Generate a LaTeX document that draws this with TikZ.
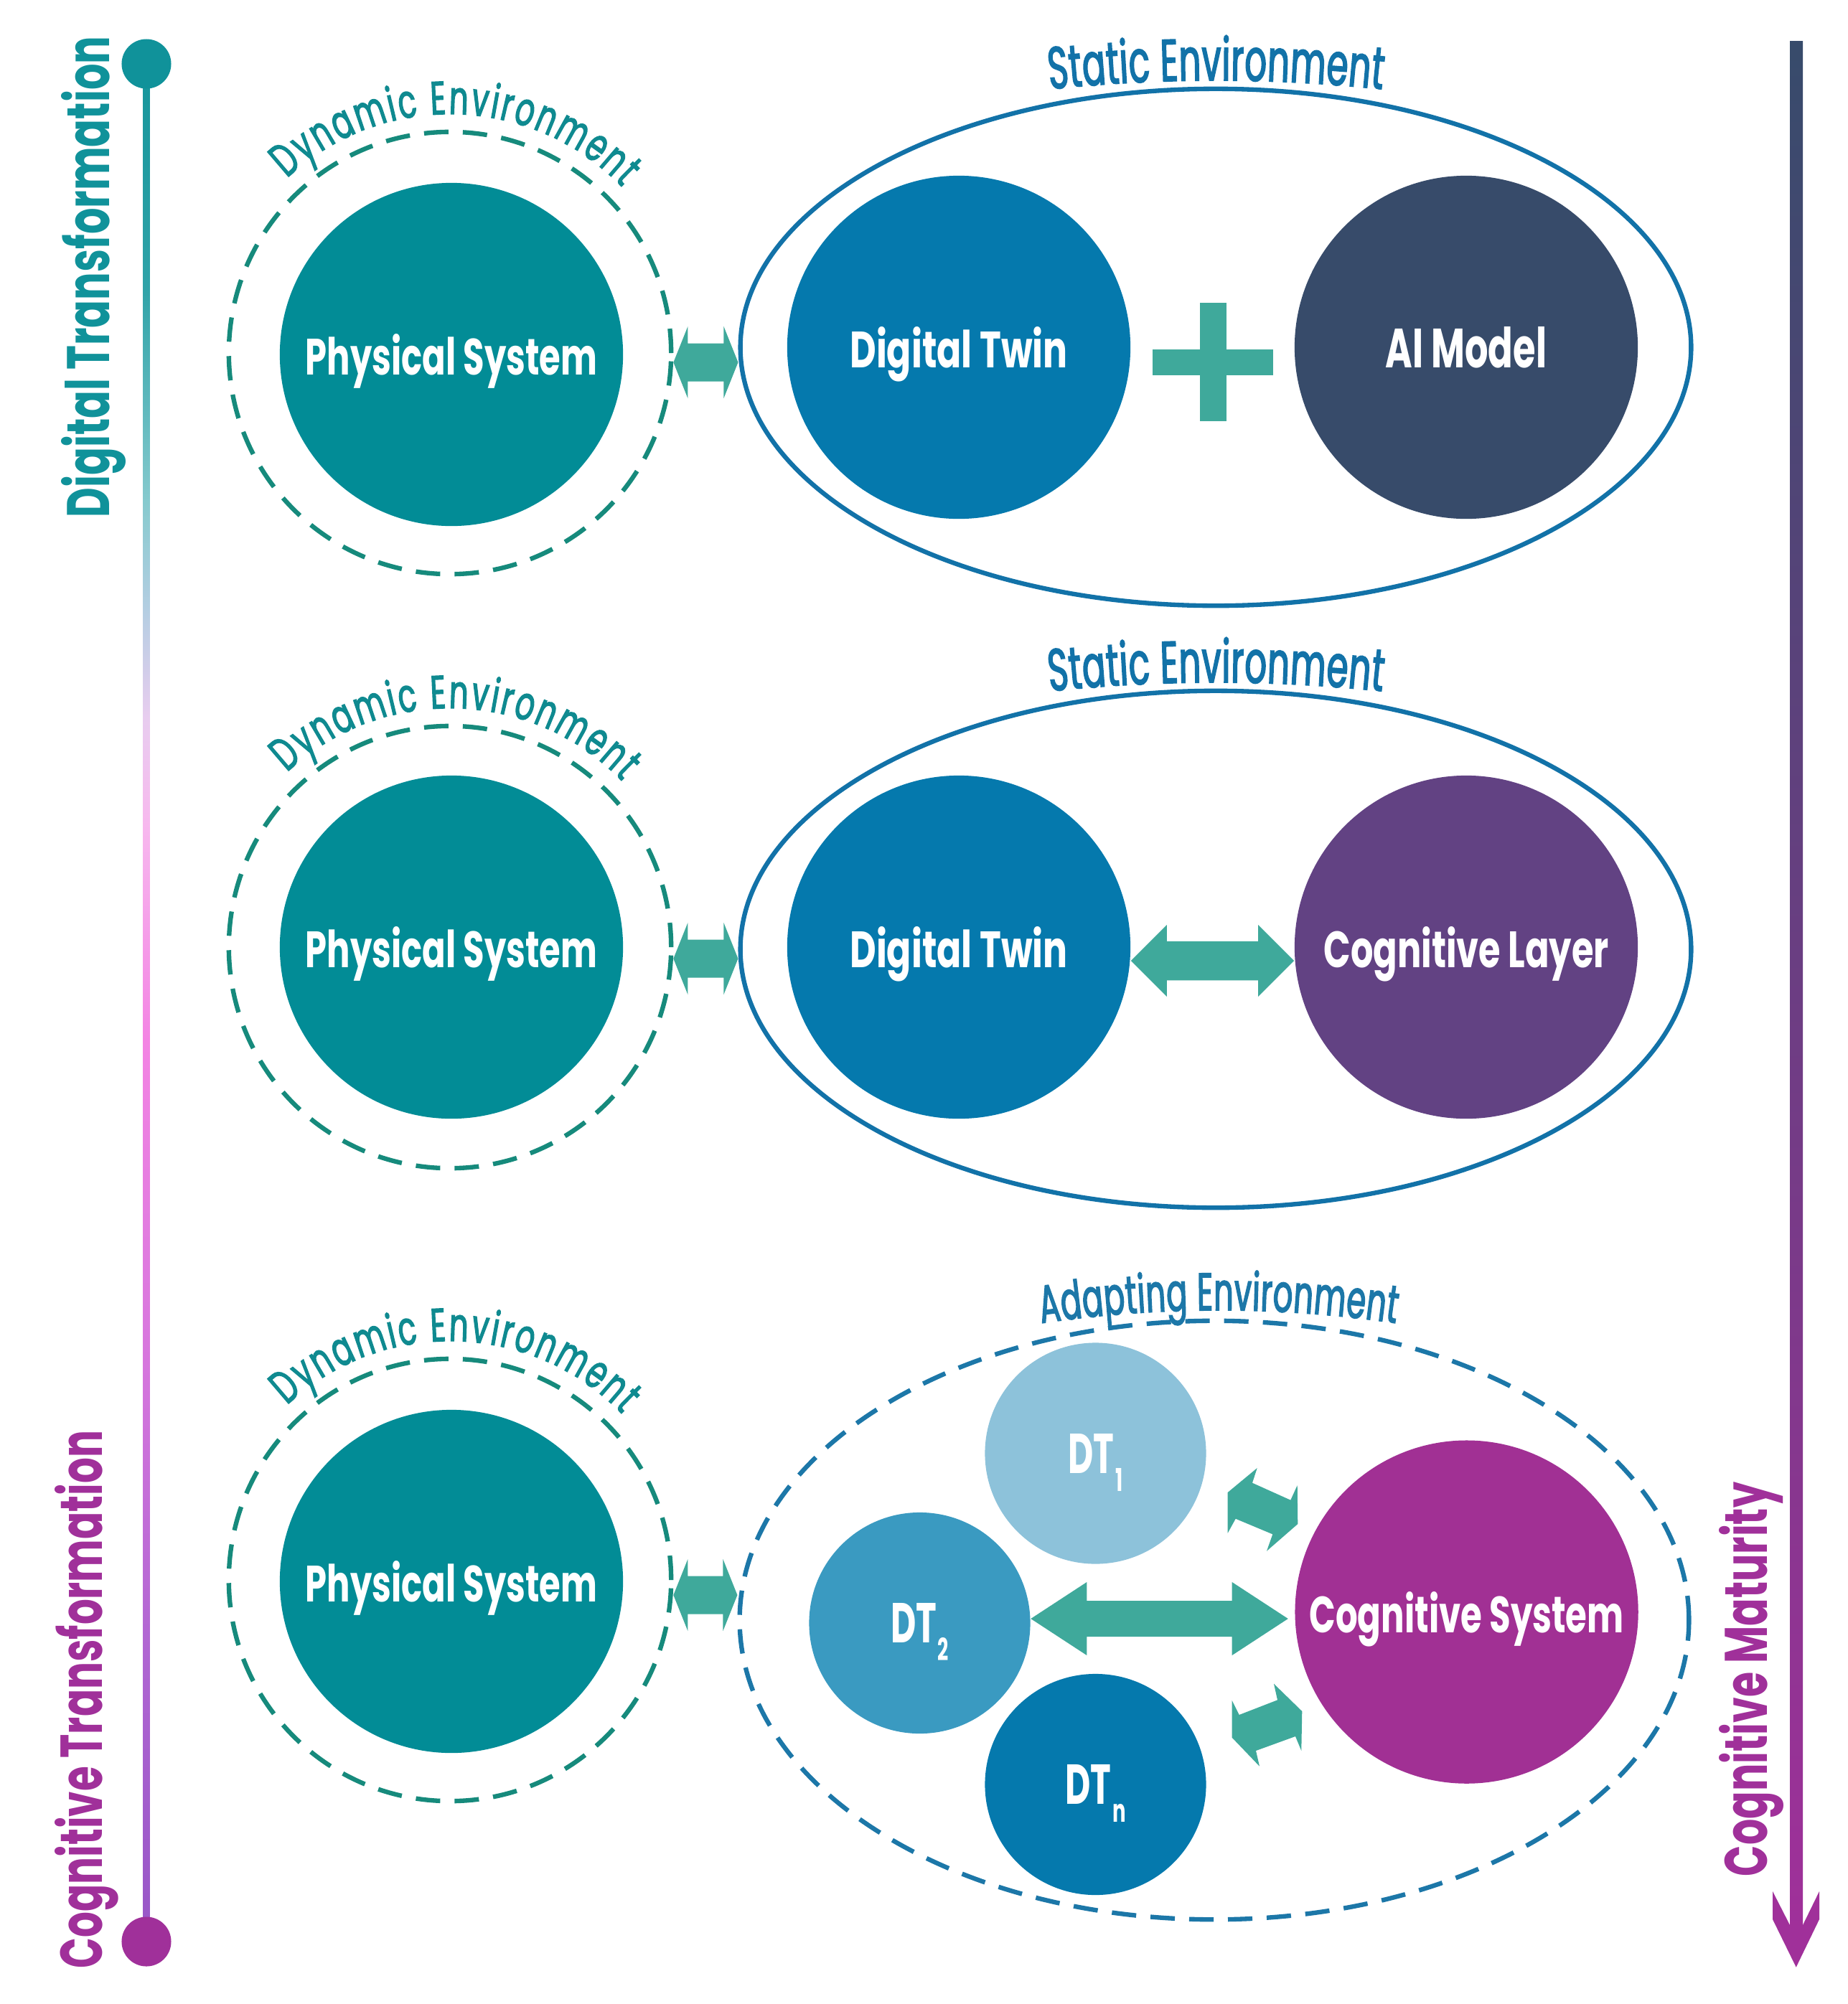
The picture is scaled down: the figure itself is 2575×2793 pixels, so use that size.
\documentclass[tikz,border=0pt]{standalone}
\usepackage{fontspec}
\usepackage{graphicx}
\usetikzlibrary{shapes.geometric,decorations.text,calc}
\newfontfamily\pop[FakeStretch=0.62]{Poppins}
\newfontfamily\popd[FakeStretch=0.64,FakeBold=2]{Poppins}
\newfontfamily\popm[FakeStretch=0.58,FakeBold=2]{Poppins}

\definecolor{psteal}{HTML}{028C96}
\definecolor{dtblue}{HTML}{0579AD}
\definecolor{aislate}{HTML}{374B6A}
\definecolor{coglayer}{HTML}{624283}
\definecolor{cogsys}{HTML}{A13094}
\definecolor{dtone}{HTML}{8DC2DA}
\definecolor{dttwo}{HTML}{3A9AC1}
\definecolor{arrowgreen}{HTML}{3FA99B}
\definecolor{dashgreen}{HTML}{168A7C}
\definecolor{dyntext}{HTML}{0F8A90}
\definecolor{envblue}{HTML}{1272A8}
\definecolor{adaptblue}{HTML}{1C77A8}
\definecolor{dtlabel}{HTML}{10929A}
\definecolor{cogmag}{HTML}{A0309A}
\definecolor{rslate}{HTML}{374B6B}
\definecolor{lbA}{HTML}{16959B}
\definecolor{lbB}{HTML}{2FA3A8}
\definecolor{lbC}{HTML}{86CACE}
\definecolor{lbD}{HTML}{B4CEE2}
\definecolor{lbE}{HTML}{E8CDEF}
\definecolor{lbF}{HTML}{F7B8EE}
\definecolor{lbG}{HTML}{F384E3}
\definecolor{lbH}{HTML}{D676DD}
\definecolor{lbI}{HTML}{B066D2}
\definecolor{lbJ}{HTML}{9A58C8}

\pgfdeclareverticalshading{leftbar}{100bp}{color(0bp)=(lbJ); color(26.07bp)=(lbJ); color(32.76bp)=(lbI); color(40.4bp)=(lbH); color(49bp)=(lbG); color(54.73bp)=(lbF); color(57.59bp)=(lbE); color(60.46bp)=(lbD); color(63.33bp)=(lbC); color(69.06bp)=(lbB); color(75bp)=(lbA); color(100bp)=(lbA)}

\newcommand{\mylbl}[3]{\raisebox{0pt}[\height][0pt]{\resizebox{#1}{#2}{\pop\bfseries #3}}}
\newcommand{\mydt}[2]{\raisebox{0pt}[\height][0pt]{\resizebox{!}{0.55cm}{\pop\bfseries DT}}\kern0.015cm\raisebox{-0.25cm}[0pt][0pt]{\resizebox{!}{#2}{\pop\bfseries #1}}}
\newcommand{\myfat}[5]{\fill[arrowgreen] let \p1=(#1), \p2=(#2) in (\x1,\y1) -- (\x1+#5,\y1+#4) -- (\x1+#5,\y1+#3) -- (\x2-#5,\y1+#3) -- (\x2-#5,\y1+#4) -- (\x2,\y1) -- (\x2-#5,\y1-#4) -- (\x2-#5,\y1-#3) -- (\x1+#5,\y1-#3) -- (\x1+#5,\y1-#4) -- cycle;}

\begin{document}
\begin{tikzpicture}[x=0.01cm,y=0.01cm,
  bigc/.style={circle, minimum size=4.78cm, inner sep=0pt, text=white},
  smallc/.style={circle, minimum size=3.08cm, inner sep=0pt, text=white},
  envc/.style={circle, draw=dashgreen, line width=1.8pt, dash pattern=on 0.34cm off 0.2cm, minimum size=6.16cm, inner sep=0pt},
  statice/.style={ellipse, draw=envblue, line width=1.8pt, minimum width=13.24cm, minimum height=7.2cm, inner sep=0pt},
  adapte/.style={ellipse, draw=adaptblue, line width=1.8pt, dash pattern=on 0.34cm off 0.2cm, minimum width=13.22cm, minimum height=8.34cm, inner sep=0pt},
  sidelbl/.style={rotate=90, inner sep=0pt},
  dotn/.style={circle, minimum size=0.69cm, inner sep=0pt},
  dyn/.style={decorate, decoration={text along path, text align=fit to path, text={|\popd\fontsize{18.5pt}{18.5pt}\selectfont\color{dyntext}|Dynamic Environment}}},
  stat/.style={decorate, decoration={text along path, text align=fit to path, text={|\popm\fontsize{23.5pt}{23.5pt}\selectfont\color{envblue}|Static Environment}}}]

\fill[white] (0,0) rectangle (2575,-2793);
\useasboundingbox (0,0) rectangle (2575,-2793);

% left timeline
\coordinate (ltop) at (204,-89);
\coordinate (lbot) at (204,-2706);
\shade[shading=leftbar] ([xshift=-0.045cm]ltop) rectangle ([xshift=0.045cm]lbot);
\node[dotn, fill=dtlabel] (dtop) at (ltop) {};
\node[dotn, fill=cogmag] (dbot) at (lbot) {};
\node[sidelbl, text=dtlabel] (tdig) at (119,-386) {\mylbl{6.70cm}{0.67cm}{Digital Transformation}};
\node[sidelbl, text=cogmag] (tcog) at (109.5,-2368.5) {\mylbl{7.49cm}{0.66cm}{Cognitive Transformation}};

% right arrow
\shade[top color=rslate, bottom color=cogmag] (2494,-57) rectangle (2512,-2690);
\fill[cogmag] (2494,-2683) -- (2470,-2636) -- (2470,-2675) -- (2502.7,-2741.7) -- (2535,-2675) -- (2535,-2636) -- (2512,-2683) -- cycle;
\node[sidelbl, text=cogmag] (tmat) at (2429,-2340.5) {\mylbl{5.49cm}{0.67cm}{Cognitive Maturity}};

% row 1
\node[statice] (st1) at (1694,-484) {};
\node[envc] (env1) at (627,-492) {};
\node[bigc, fill=psteal] (ps1) at (629,-494) {\mylbl{4.06cm}{0.57cm}{Physical System}};
\node[bigc, fill=dtblue] (dt1) at (1336,-484) {\mylbl{3.03cm}{0.57cm}{Digital Twin}};
\node[bigc, fill=aislate] (ai1) at (2043,-484) {\mylbl{2.24cm}{0.57cm}{AI Model}};
\myfat{[yshift=-0.13cm]env1.east}{st1.west}{0.265cm}{0.5cm}{0.2cm}
\fill[arrowgreen] (1606,-486.7) rectangle (1774,-523.3);
\fill[arrowgreen] (1672,-421.7) rectangle (1709,-587.3);
\path[dyn] ($(env1.center)+(133:333)$) arc[start angle=133, end angle=44, radius=333];
\path[stat] ($(st1.center)+(0.5,-1808)+(96.1:2180)$) arc[start angle=96.1, end angle=83.9, radius=2180];

% row 2
\node[statice] (st2) at (1694,-1323) {};
\node[envc] (env2) at (627,-1320) {};
\node[bigc, fill=psteal] (ps2) at (629,-1320) {\mylbl{4.06cm}{0.57cm}{Physical System}};
\node[bigc, fill=dtblue] (dt2) at (1336,-1320) {\mylbl{3.03cm}{0.57cm}{Digital Twin}};
\node[bigc, fill=coglayer] (cl2) at (2043,-1320) {\mylbl{3.97cm}{0.57cm}{Cognitive Layer}};
\myfat{[yshift=-0.16cm]env2.east}{st2.west}{0.265cm}{0.5cm}{0.2cm}
\myfat{[yshift=-0.19cm]dt2.east}{cl2.west}{0.2725cm}{0.5cm}{0.5cm}
\path[dyn] ($(env2.center)+(133:333)$) arc[start angle=133, end angle=44, radius=333];
\path[stat] ($(st2.center)+(0.5,-1808)+(96.1:2180)$) arc[start angle=96.1, end angle=83.9, radius=2180];

% row 3
\node[adapte] (ad3) at (1692,-2258) {};
\node[envc] (env3) at (627,-2202) {};
\node[bigc, fill=psteal] (ps3) at (629,-2204) {\mylbl{4.06cm}{0.57cm}{Physical System}};
\node[smallc, fill=dtone] (dta) at (1526.5,-2025.5) {\mydt{1}{0.32cm}};
\node[smallc, fill=dttwo] (dtb) at (1281.5,-2262) {\mydt{2}{0.32cm}};
\node[smallc, fill=dtblue] (dtn) at (1526.5,-2487) {\mydt{n}{0.25cm}};
\node[bigc, fill=cogsys] (cs3) at (2043.6,-2246.6) {\mylbl{4.38cm}{0.57cm}{Cognitive System}};
\myfat{[yshift=-0.21cm]env3.east}{ad3.west}{0.265cm}{0.5cm}{0.2cm}
\myfat{[yshift=0.06cm]dtb.east}{[xshift=-0.09cm]cs3.west}{0.25cm}{0.51cm}{0.78cm}
\fill[arrowgreen] (1751.7,-2046) -- (1710.7,-2080) -- (1710.7,-2136.7) -- (1721.7,-2116.7) -- (1773.3,-2138.3) -- (1765,-2161.7) -- (1808.3,-2124) -- (1807.7,-2070) -- (1798.3,-2090.7) -- (1745,-2066.7) -- cycle;
\fill[arrowgreen] (1716.7,-2370) -- (1726.7,-2390) -- (1780,-2369.3) -- (1775,-2346.7) -- (1814.3,-2385) -- (1813.3,-2440) -- (1805,-2420) -- (1750,-2440) -- (1755,-2461.7) -- (1716.7,-2421.7) -- cycle;
\path[dyn] ($(env3.center)+(133:333)$) arc[start angle=133, end angle=44, radius=333];
\path[decorate, decoration={text along path, text align=fit to path, text={|\popm\fontsize{21pt}{21pt}\selectfont\color{adaptblue}|Adapting Environment}}] ($(ad3.center)+(6,-1268)+(98.35:1700)$) arc[start angle=98.35, end angle=81.65, radius=1700];

\end{tikzpicture}
\end{document}
